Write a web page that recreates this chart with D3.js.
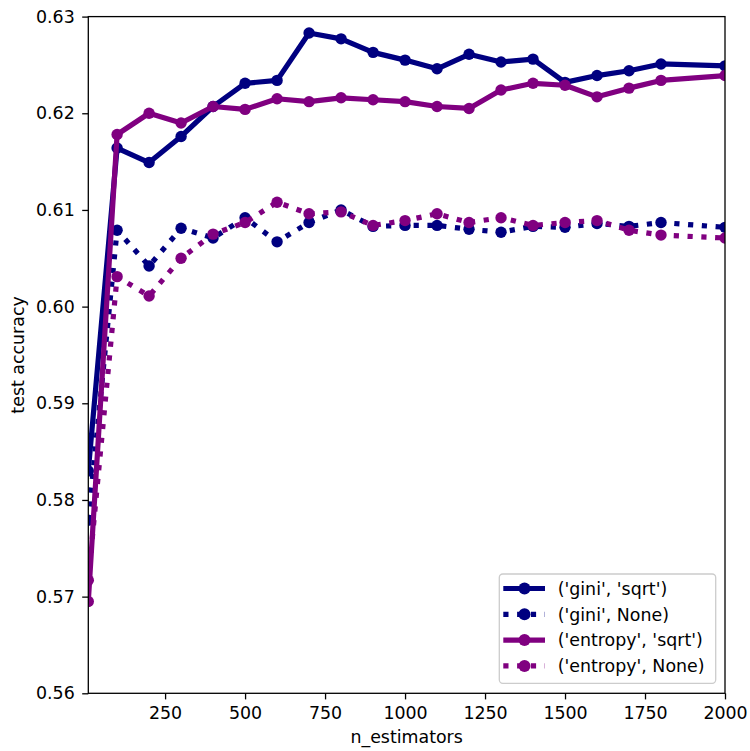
<!DOCTYPE html>
<html><head><meta charset="utf-8">
<script src="https://cdn.jsdelivr.net/npm/d3@7"></script>
<style>body{margin:0;background:#fff}svg{display:block}text{font-family:"DejaVu Sans",sans-serif;fill:#000}</style>
</head><body><div id="chart"></div>
<script>
const nEstimators = [10,100,200,300,400,500,600,700,800,900,1000,1100,1200,1300,1400,1500,1600,1700,1800,2000];
const giniSqrt = [0.5830,0.6164,0.6149,0.6176,0.6207,0.6231,0.6234,0.6283,0.6277,0.6263,0.6255,0.6246,0.6261,0.6253,0.6256,0.6232,0.6239,0.6244,0.6251,0.6249];
const giniNone = [0.5779,0.6079,0.6042,0.6081,0.6071,0.6092,0.6067,0.6087,0.6100,0.6083,0.6084,0.6084,0.6080,0.6077,0.6083,0.6082,0.6086,0.6083,0.6087,0.6082];
const entropySqrt = [0.5695,0.6178,0.6200,0.6190,0.6207,0.6204,0.6215,0.6212,0.6216,0.6214,0.6212,0.6207,0.6205,0.6224,0.6231,0.6229,0.6217,0.6226,0.6234,0.6239];
const entropyNone = [0.5717,0.6031,0.6011,0.6050,0.6075,0.6087,0.6108,0.6096,0.6098,0.6084,0.6089,0.6096,0.6087,0.6092,0.6084,0.6087,0.6089,0.6079,0.6074,0.6071];
const seriesNames = ["('gini', 'sqrt')","('gini', None)","('entropy', 'sqrt')","('entropy', None)"];
const xTicks = [250,500,750,1000,1250,1500,1750,2000];
const yTicks = [0.56,0.57,0.58,0.59,0.60,0.61,0.62,0.63];

const series = [
  {name: seriesNames[0], values: giniSqrt, color: "#000080", dotted: false},
  {name: seriesNames[1], values: giniNone, color: "#000080", dotted: true},
  {name: seriesNames[2], values: entropySqrt, color: "#800080", dotted: false},
  {name: seriesNames[3], values: entropyNone, color: "#800080", dotted: true}
];

const W = 750, H = 751;
const L = 88.3, R = 725, T = 16.6, B = 693.3;
const lw = 5.2, dash = "5.2,8.6", mr = 5.7, fs = "17.4px";

const svg = d3.select("#chart").append("svg").attr("width", W).attr("height", H);
const x = d3.scaleLinear().domain([10, 2000]).range([L, R]);
const y = d3.scaleLinear().domain([0.56, 0.63]).range([B, T]);

svg.append("defs").append("clipPath").attr("id","clip")
  .append("rect").attr("x",L).attr("y",T).attr("width",R-L).attr("height",B-T);

const plot = svg.append("g").attr("clip-path","url(#clip)");
const line = d3.line().x((d,i)=>x(nEstimators[i])).y(d=>y(d));
series.forEach(s=>{
  const g = plot.append("g");
  g.append("path").attr("d", line(s.values)).attr("fill","none")
    .attr("stroke", s.color).attr("stroke-width", lw)
    .attr("stroke-linejoin","round")
    .attr("stroke-linecap", s.dotted ? "butt" : "square")
    .attr("stroke-dasharray", s.dotted ? dash : null);
  g.selectAll("circle").data(s.values).join("circle")
    .attr("cx",(d,i)=>x(nEstimators[i])).attr("cy",d=>y(d)).attr("r",mr)
    .attr("fill",s.color);
});

// axes
const xAxis = svg.append("g").attr("transform",`translate(0,${B})`)
  .call(d3.axisBottom(x).tickValues(xTicks).tickSize(6.1).tickPadding(6.1).tickFormat(d3.format("d")));
const yAxis = svg.append("g").attr("transform",`translate(${L},0)`)
  .call(d3.axisLeft(y).tickValues(yTicks).tickSize(6.1).tickPadding(7.5).tickFormat(d3.format(".2f")));
[xAxis,yAxis].forEach(a=>{
  a.select(".domain").remove();
  a.selectAll(".tick line").attr("stroke","#000").attr("stroke-width",1.3);
  a.selectAll(".tick text").attr("font-size",fs).attr("font-family","DejaVu Sans").attr("fill","#000");
});
xAxis.selectAll(".tick text").attr("y",26).attr("dy","0");
svg.append("rect").attr("x",L).attr("y",T).attr("width",R-L).attr("height",B-T)
  .attr("fill","none").attr("stroke","#000").attr("stroke-width",1.3);

svg.append("text").attr("x",(L+R)/2).attr("y",743.3).attr("text-anchor","middle")
  .attr("font-size",fs).text("n_estimators");
svg.append("text").attr("transform",`translate(24.3,${(T+B)/2}) rotate(-90)`).attr("text-anchor","middle")
  .attr("font-size",fs).text("test accuracy");

// legend
const lg = svg.append("g");
lg.append("rect").attr("x",499.3).attr("y",574).attr("width",216.4).attr("height",109.3)
  .attr("rx",3.5).attr("fill","#fff").attr("fill-opacity",0.8).attr("stroke","#cccccc").attr("stroke-width",1.3);
series.forEach((s,i)=>{
  const cy = 588.5 + i*25.8;
  lg.append("line").attr("x1",503.3).attr("x2",545).attr("y1",cy).attr("y2",cy)
    .attr("stroke",s.color).attr("stroke-width",lw)
    .attr("stroke-dasharray", s.dotted ? dash : null);
  lg.append("circle").attr("cx",524.5).attr("cy",cy).attr("r",mr+0.3).attr("fill",s.color);
  lg.append("text").attr("x",557.7).attr("y",cy).attr("dy","0.36em").attr("font-size",fs).text(s.name);
});
</script></body></html>
